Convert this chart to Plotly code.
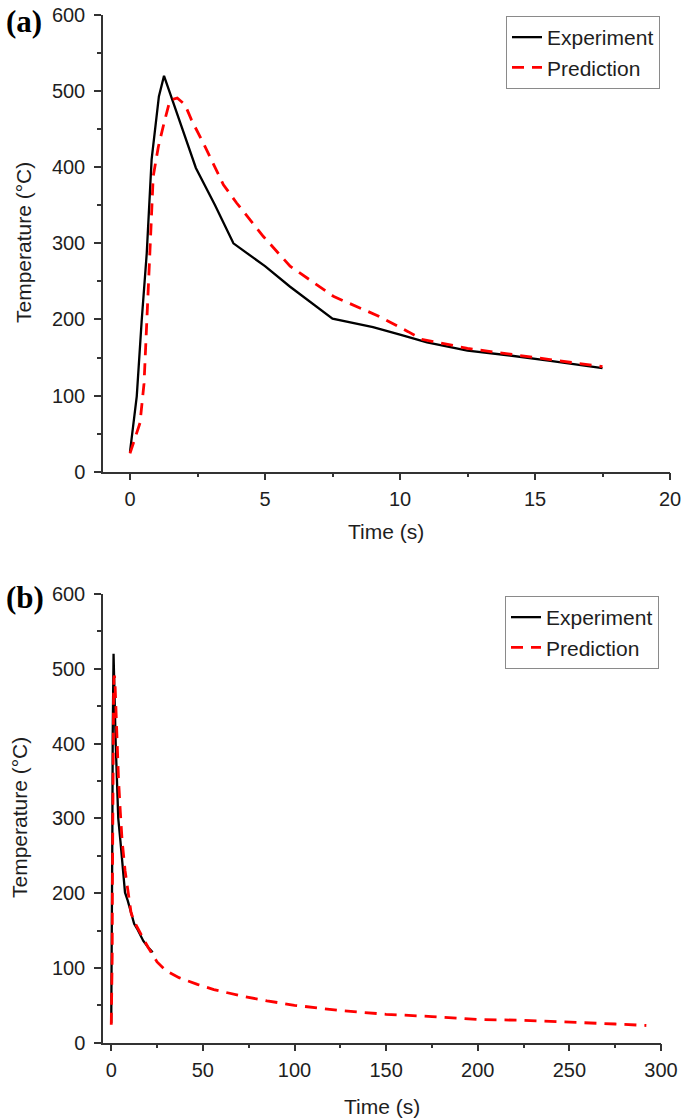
import plotly.graph_objects as go

# ---- data ----
# Panel (a): first 17.5 s
exp_time = [0, 0.25, 0.43, 0.62, 0.8, 1.07, 1.26, 1.48, 2.44, 3.15, 3.83, 5.0, 5.93,
            7.5, 9.0, 10.0, 11.0, 12.5, 14.0, 15.5, 17.5]
exp_temp = [26, 99, 197, 287, 410, 493, 520, 497, 399, 350, 300, 270, 243,
            201, 190, 180, 170, 159, 153, 146, 136]

pred_time = [0, 0.37, 0.52, 0.62, 0.74, 0.86, 1.05, 1.26, 1.48, 1.75, 2.04, 2.28, 2.78,
             3.46, 3.95, 4.94, 5.93, 7.55, 9.17, 10.3, 10.8, 12.5, 14.0, 15.5, 17.5]
pred_temp = [24, 64, 116, 204, 291, 388, 427, 458, 488, 491, 482, 462, 427,
             377, 353, 309, 270, 230, 205, 184, 174, 162, 155, 148, 138]

# Panel (b): extensions beyond 17.5 s
exp_time_ext = [20.0, 22.6]
exp_temp_ext = [128, 121]

pred_time_ext = [20, 25, 30, 37, 47, 56, 70, 85, 100, 125, 150, 175, 200, 225, 250, 275, 292]
pred_temp_ext = [128, 108, 96, 87, 78, 71, 63, 56, 50, 43, 38, 35, 31, 30, 27, 25, 23]

xticks_a = [0, 5, 10, 15, 20]
xticks_b = [0, 50, 100, 150, 200, 250, 300]
yticks = [0, 100, 200, 300, 400, 500, 600]

W, H = 685, 1119
FONT = "Liberation Sans, Arial, sans-serif"
TXT = "#1e1e1e"
AX = "#333333"

fig = go.Figure()

black = dict(color="black", width=2.3)
red = dict(color="#ff0000", width=2.8, dash="12px,8px")

fig.add_trace(go.Scatter(x=exp_time, y=exp_temp, mode="lines", name="Experiment",
                         line=black, xaxis="x", yaxis="y", legend="legend"))
fig.add_trace(go.Scatter(x=pred_time, y=pred_temp, mode="lines", name="Prediction",
                         line=red, xaxis="x", yaxis="y", legend="legend"))
fig.add_trace(go.Scatter(x=exp_time + exp_time_ext, y=exp_temp + exp_temp_ext, mode="lines",
                         name="Experiment", line=black, xaxis="x2", yaxis="y2", legend="legend2"))
fig.add_trace(go.Scatter(x=pred_time + pred_time_ext, y=pred_temp + pred_temp_ext, mode="lines",
                         name="Prediction", line=red, xaxis="x2", yaxis="y2", legend="legend2"))


def axis(**kw):
    base = dict(showline=True, linecolor=AX, linewidth=1.5, showgrid=False, zeroline=False,
                ticks="outside", ticklen=7, tickwidth=1.5, tickcolor=AX,
                tickfont=dict(family=FONT, size=20, color=TXT), automargin=False,
                mirror=False)
    base.update(kw)
    return base


ya_top = 1 - 471.7 / H
ya_hi = 1 - 15 / H
yb_top = 1 - 1042.7 / H
yb_hi = 1 - 594 / H

fig.update_layout(
    width=W, height=H,
    margin=dict(l=0, r=0, t=0, b=0),
    paper_bgcolor="white", plot_bgcolor="white",
    font=dict(family=FONT, color=TXT),
    xaxis=axis(domain=[103 / W, 670 / W], range=[-1, 20], tickvals=xticks_a, anchor="y",
               minor=dict(ticks="outside", ticklen=4, dtick=2.5, tick0=0, tickcolor=AX, tickwidth=1.5),
               ticklabelstandoff=2),
    yaxis=axis(domain=[ya_top, ya_hi], range=[0, 600], tickvals=yticks, anchor="x",
               minor=dict(ticks="outside", ticklen=4, dtick=50, tick0=0, tickcolor=AX, tickwidth=1.5),
               ticklabelstandoff=5),
    xaxis2=axis(domain=[103 / W, 661 / W], range=[-4.5, 300], tickvals=xticks_b, anchor="y2",
                minor=dict(ticks="outside", ticklen=4, dtick=25, tick0=0, tickcolor=AX, tickwidth=1.5),
                ticklabelstandoff=2),
    yaxis2=axis(domain=[yb_top, yb_hi], range=[0, 600], tickvals=yticks, anchor="x2",
                minor=dict(ticks="outside", ticklen=4, dtick=50, tick0=0, tickcolor=AX, tickwidth=1.5),
                ticklabelstandoff=5),
    legend=dict(x=660 / W, xanchor="right", y=1 - 16 / H, yanchor="top",
                bordercolor="#8a8a8a", borderwidth=1, bgcolor="white",
                font=dict(family=FONT, size=21, color=TXT), tracegroupgap=0),
    legend2=dict(x=659 / W, xanchor="right", y=1 - 596 / H, yanchor="top",
                 bordercolor="#8a8a8a", borderwidth=1, bgcolor="white",
                 font=dict(family=FONT, size=21, color=TXT), tracegroupgap=0),
    showlegend=True,
)

ann = []
# panel letters
ann.append(dict(text="<b>(a)</b>", x=4 / W, y=1 - 21 / H, xref="paper", yref="paper",
                xanchor="left", yanchor="middle", showarrow=False,
                font=dict(family="Liberation Serif, Times New Roman, serif", size=31, color="black")))
ann.append(dict(text="<b>(b)</b>", x=4 / W, y=1 - 598 / H, xref="paper", yref="paper",
                xanchor="left", yanchor="middle", showarrow=False,
                font=dict(family="Liberation Serif, Times New Roman, serif", size=31, color="black")))
# axis titles
tfont = dict(family=FONT, size=21, color=TXT)
ann.append(dict(text="Temperature (°C)", x=23 / W, y=1 - 243 / H, xref="paper", yref="paper",
                textangle=-90, showarrow=False, xanchor="center", yanchor="middle", font=tfont))
ann.append(dict(text="Time (s)", x=386 / W, y=1 - 531 / H, xref="paper", yref="paper",
                showarrow=False, xanchor="center", yanchor="middle", font=tfont))
ann.append(dict(text="Temperature (°C)", x=19 / W, y=1 - 818 / H, xref="paper", yref="paper",
                textangle=-90, showarrow=False, xanchor="center", yanchor="middle", font=tfont))
ann.append(dict(text="Time (s)", x=382 / W, y=1 - 1106 / H, xref="paper", yref="paper",
                showarrow=False, xanchor="center", yanchor="middle", font=tfont))
fig.update_layout(annotations=ann)

fig.write_html("out.html", config={"displayModeBar": False},
               post_script="document.body.style.margin='0';document.body.style.padding='0';")
